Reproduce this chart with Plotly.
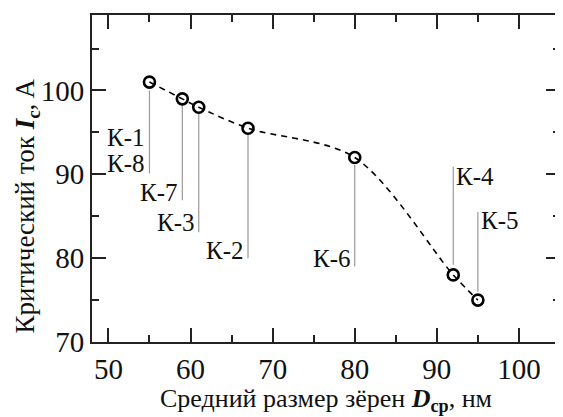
import plotly.graph_objects as go

# Data
grain_size = [55, 59, 61, 67, 80, 92, 95]          # D_cp, nm
crit_current = [101, 99, 98, 95.5, 92, 78, 75]     # I_c, A

# leader lines (top, bottom) for each point
lead_top = [100.0, 98.5, 97.3, 94.7, 91.1, 90.9, 85.5]
lead_bot = [90.1, 86.9, 83.1, 80.0, 79.0, 79.2, 76.0]

# sample labels
labels = ["К-1", "К-8", "К-7", "К-3", "К-2", "К-6", "К-4", "К-5"]
label_x = [55, 55, 59, 61, 67, 80, 92, 95]
label_y = [94.4, 91.3, 87.8, 84.2, 80.9, 80.0, 89.7, 84.5]
label_side = ["left", "left", "left", "left", "left", "left", "right", "right"]

x_ticks = [50, 60, 70, 80, 90, 100]
y_ticks = [70, 80, 90, 100]

FONT = "Liberation Serif, Times New Roman, Times, serif"

fig = go.Figure()

# leader lines
for xv, t, b in zip(grain_size, lead_top, lead_bot):
    fig.add_trace(go.Scatter(x=[xv, xv], y=[t, b], mode="lines",
                             line=dict(color="#9a9a9a", width=1.2),
                             hoverinfo="skip", showlegend=False))

# dashed curve
fig.add_trace(go.Scatter(x=grain_size, y=crit_current, mode="lines",
                         line=dict(color="black", width=1.6, dash="6px,5px",
                                   shape="spline", smoothing=0.9),
                         showlegend=False))

# markers
fig.add_trace(go.Scatter(x=grain_size, y=crit_current, mode="markers",
                         marker=dict(symbol="circle-open", size=11, color="black",
                                     line=dict(width=2.6, color="black")),
                         showlegend=False))

for name, xv, yv, side in zip(labels, label_x, label_y, label_side):
    left = side == "left"
    fig.add_annotation(x=xv, y=yv, text=name, showarrow=False,
                       xanchor="right" if left else "left", yanchor="middle",
                       xshift=-2 if left else 1,
                       font=dict(family=FONT, size=25, color="#111"))

# axis titles
fig.add_annotation(xref="paper", yref="paper", x=0.499, y=-0.178,
                   text="Средний размер зёрен <b><i>D</i><sub>ср</sub></b>, нм",
                   showarrow=False, xanchor="center", yanchor="middle",
                   font=dict(family=FONT, size=26, color="#111"))
fig.add_annotation(xref="paper", yref="paper", x=-0.138, y=0.416,
                   text="Критический ток <b><i>I</i><sub>c</sub></b>, A",
                   showarrow=False, xanchor="center", yanchor="middle",
                   textangle=-90,
                   font=dict(family=FONT, size=27, color="#111"))

axis_common = dict(showgrid=False, zeroline=False, showline=True,
                   linecolor="#222", linewidth=2, mirror="allticks",
                   ticks="inside", ticklen=14, tickwidth=2, tickcolor="#222",
                   tickfont=dict(family=FONT, size=29, color="#111"))

fig.update_xaxes(range=[48, 105], tickvals=x_ticks, ticktext=[str(v) for v in x_ticks],
                 minor=dict(ticks="inside", ticklen=7, tickwidth=2, tickcolor="#222",
                            tickvals=[55, 65, 75, 85, 95]),
                 **axis_common)
fig.update_yaxes(range=[70, 109], tickvals=y_ticks, ticktext=[str(v) for v in y_ticks],
                 minor=dict(ticks="inside", ticklen=7, tickwidth=2, tickcolor="#222",
                            tickvals=[75, 85, 95, 105]),
                 **axis_common)

# page body has an 8px margin, so the figure is sized to fit the window
fig.update_layout(width=555, height=409,
                  margin=dict(l=84, r=1, t=7, b=75),
                  plot_bgcolor="white", paper_bgcolor="white",
                  showlegend=False)

fig.write_html("out.html")
